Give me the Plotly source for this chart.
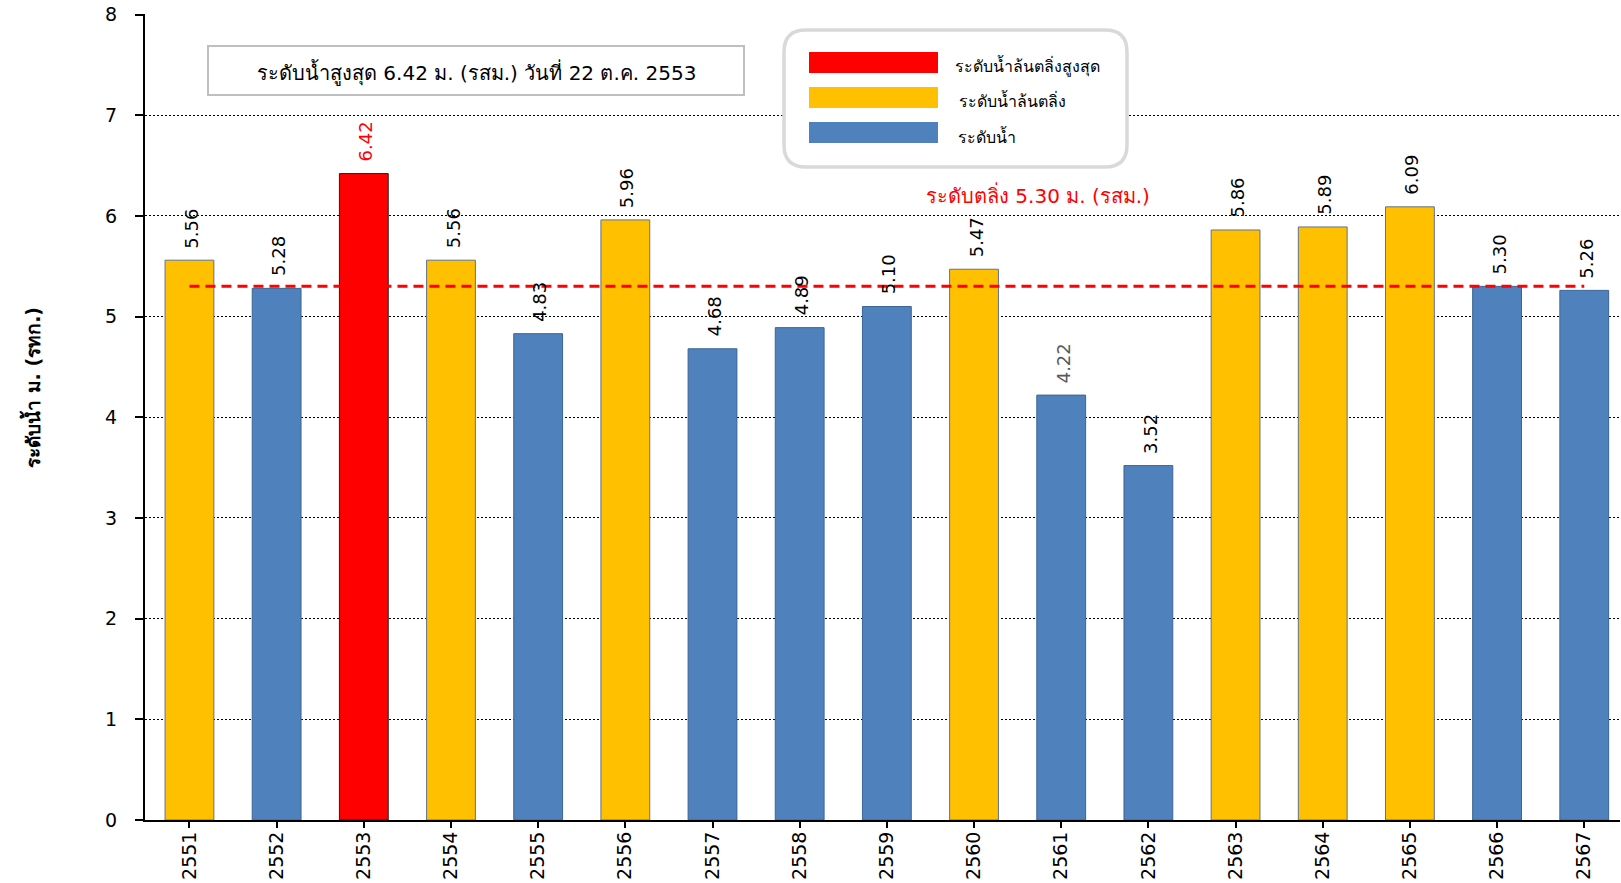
import re
import plotly.graph_objects as go

years = ["2551", "2552", "2553", "2554", "2555", "2556", "2557", "2558", "2559",
         "2560", "2561", "2562", "2563", "2564", "2565", "2566", "2567"]
levels = [5.56, 5.28, 6.42, 5.56, 4.83, 5.96, 4.68, 4.89, 5.10,
          5.47, 4.22, 3.52, 5.86, 5.89, 6.09, 5.30, 5.26]
level_kind = ["bank", "normal", "max", "bank", "normal", "bank", "normal", "normal", "normal",
              "bank", "normal", "normal", "bank", "bank", "bank", "normal", "normal"]
label_text = ["5.56", "5.28", "6.42", "5.56", "4.83", "5.96", "4.68", "4.89", "5.10",
              "5.47", "4.22", "3.52", "5.86", "5.89", "6.09", "5.30", "5.26"]
bank_level = 5.30

kind_color = {"max": "#FF0000", "bank": "#FFC000", "normal": "#4F81BD"}
kind_line = {"max": "#202020", "bank": "#5F7391", "normal": "#3A6595"}
kind_label = {"max": "#FF0000", "bank": "#000000", "normal": "#000000"}

legend_items = [("ระดับน้ำล้นตลิ่งสูงสุด", "#FF0000"),
                ("ระดับน้ำล้นตลิ่ง", "#FFC000"),
                ("ระดับน้ำ", "#4F81BD")]

title_text = "ระดับน้ำสูงสุด 6.42 ม. (รสม.) วันที่ 22 ต.ค. 2553"
bank_text = "ระดับตลิ่ง 5.30 ม. (รสม.)"
ytitle = "ระดับน้ำ ม. (รทก.)"

FONT = "Tahoma, 'DejaVu Sans', 'Noto Sans', sans-serif"
W, H = 1621, 883
L, R, T, B = 145, 1, 14, 63

fig = go.Figure()
fig.add_trace(go.Bar(
    x=years, y=levels, width=0.56,
    marker=dict(color=[kind_color[k] for k in level_kind],
                line=dict(color=[kind_line[k] for k in level_kind], width=1)),
    showlegend=False, hoverinfo="x+y",
))
fig.add_trace(go.Scatter(
    x=[years[0], years[-1]], y=[bank_level, bank_level], mode="lines",
    line=dict(color="#FF0000", width=3, dash="10px,6px"),
    showlegend=False, hoverinfo="skip",
))

annotations = []
for i, (v, lab, k) in enumerate(zip(levels, label_text, level_kind)):
    col = kind_label[k]
    if lab == "4.22":
        col = "#595959"
    annotations.append(dict(x=i, y=v, xref="x", yref="y", text=lab, showarrow=False,
                            textangle=-90, yanchor="bottom", xanchor="center", yshift=10, xshift=2,
                            font=dict(family=FONT, size=18, color=col)))

pw = W - L - R
ph = H - T - B
def px(xp):
    return (xp - L) / pw
def py(yp):
    return 1 - (yp - T) / ph

shapes = []
# title box
shapes.append(dict(type="rect", xref="paper", yref="paper", x0=px(208), x1=px(744), y0=py(95), y1=py(46),
                   line=dict(color="#BFBFBF", width=2), fillcolor="white", layer="above"))
annotations.append(dict(xref="paper", yref="paper", x=px(476), y=py(72), text=title_text, showarrow=False,
                        xanchor="center", yanchor="middle", font=dict(family=FONT, size=20, color="#000000")))

# legend box rounded
x0, x1, y0, y1, r = 784, 1127, 30, 167, 22
path = (f"M {x0+r},{y0} L {x1-r},{y0} Q {x1},{y0} {x1},{y0+r} L {x1},{y1-r} Q {x1},{y1} {x1-r},{y1} "
        f"L {x0+r},{y1} Q {x0},{y1} {x0},{y1-r} L {x0},{y0+r} Q {x0},{y0} {x0+r},{y0} Z")
def conv(m):
    a, b = float(m.group(1)), float(m.group(2))
    return f"{px(a):.5f},{py(b):.5f}"
path_paper = re.sub(r"(-?\d+\.?\d*),(-?\d+\.?\d*)", conv, path)
shapes.append(dict(type="path", xref="paper", yref="paper", path=path_paper,
                   line=dict(color="#D9D9D9", width=3.5), fillcolor="white", layer="above"))
sw_tops = [52, 87, 122]
text_x = [953, 957, 956]
for (lab, col), top, tx in zip(legend_items, sw_tops, text_x):
    shapes.append(dict(type="rect", xref="paper", yref="paper", x0=px(809), x1=px(938),
                       y0=py(top + 21), y1=py(top), line=dict(width=0), fillcolor=col, layer="above"))
    annotations.append(dict(xref="paper", yref="paper", x=px(tx), y=py(top + 14), text=lab, showarrow=False,
                            xanchor="left", yanchor="middle",
                            font=dict(family=FONT, size=16, color="#000000")))

annotations.append(dict(xref="paper", yref="paper", x=px(1038), y=py(195), text=bank_text, showarrow=False,
                        xanchor="center", yanchor="middle", font=dict(family=FONT, size=20, color="#FF0000")))
annotations.append(dict(xref="paper", yref="paper", x=px(31), y=py(388), text="<b>" + ytitle + "</b>",
                        showarrow=False, textangle=-90, xanchor="center", yanchor="middle",
                        font=dict(family=FONT, size=19, color="#000000")))

fig.update_layout(
    width=W, height=H, margin=dict(l=L, r=R, t=T, b=B, pad=0, autoexpand=False),
    plot_bgcolor="white", paper_bgcolor="white",
    shapes=shapes, annotations=annotations, bargap=0.44,
    xaxis=dict(type="category", range=[-0.51, 16.41], showgrid=False, showline=True, linecolor="#000000",
               linewidth=2, ticks="outside", ticklen=6, tickwidth=2, tickcolor="#000000", tickangle=-90,
               tickfont=dict(family=FONT, size=19, color="#000000"), ticklabelstandoff=-4,
               automargin=False),
    yaxis=dict(range=[0, 8.005], tickvals=[0, 1, 2, 3, 4, 5, 6, 7, 8], showgrid=True, gridcolor="#000000",
               griddash="2px,2px", gridwidth=1,
               showline=True, linecolor="#000000", linewidth=2, ticks="outside", ticklen=8, tickwidth=1.5,
               tickcolor="#000000", zeroline=False, tickfont=dict(family=FONT, size=19, color="#000000"),
               ticklabelstandoff=14, automargin=False),
)
fig.write_html("out.html", config={"displayModeBar": False},
               post_script="document.body.style.margin='0px';document.body.style.overflow='hidden';")
